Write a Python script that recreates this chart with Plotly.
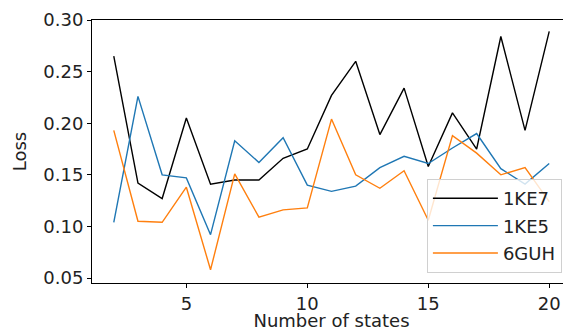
import plotly.graph_objects as go

states = list(range(2, 21))
loss_1ke7 = [0.265, 0.142, 0.127, 0.205, 0.141, 0.145, 0.145, 0.166, 0.175,
             0.227, 0.260, 0.189, 0.234, 0.158, 0.210, 0.175, 0.284, 0.193, 0.289]
loss_1ke5 = [0.104, 0.226, 0.150, 0.147, 0.092, 0.183, 0.162, 0.186, 0.140,
             0.134, 0.139, 0.157, 0.168, 0.161, 0.176, 0.190, 0.156, 0.141, 0.161]
loss_6guh = [0.193, 0.105, 0.104, 0.138, 0.058, 0.151, 0.109, 0.116, 0.118,
             0.204, 0.150, 0.137, 0.154, 0.106, 0.188, 0.171, 0.150, 0.157, 0.124]
series_names = ["1KE7", "1KE5", "6GUH"]
colors = ["black", "#1f77b4", "#ff7f0e"]
y_ticks = [0.05, 0.10, 0.15, 0.20, 0.25, 0.30]
x_ticks = [5, 10, 15, 20]

fig = go.Figure()
for name, vals, c in zip(series_names, [loss_1ke7, loss_1ke5, loss_6guh], colors):
    fig.add_trace(go.Scatter(x=states, y=vals, mode="lines", name=name, legendgroup=name,
                             line=dict(color=c, width=1.4)))

font = dict(family="DejaVu Sans", size=18, color="#222")
# page body has an 8px margin, so the figure is sized/margined to compensate
fig.update_layout(
    width=563, height=323,
    margin=dict(l=84, r=0, t=12, b=48, autoexpand=False),
    paper_bgcolor="white", plot_bgcolor="white",
    font=font,
    showlegend=True,
    legend=dict(x=0.981, y=0.038, xanchor="right", yanchor="bottom",
                bgcolor="rgba(255,255,255,0.8)", bordercolor="#d0d0d0", borderwidth=1,
                font=dict(family="DejaVu Sans", size=18, color="#222"),
                itemwidth=65, tracegroupgap=1),
)
fig.update_xaxes(range=[1.1, 20.9], tickvals=x_ticks, ticktext=[str(v) for v in x_ticks],
                 showgrid=False, zeroline=False, showline=True, linecolor="black",
                 linewidth=1, mirror=True, ticks="outside", ticklen=4, tickcolor="black",
                 automargin=False,
                 title=dict(text="Number of states", standoff=0, font=font))
fig.update_yaxes(range=[0.0452, 0.30], tickvals=y_ticks, ticktext=[f"{v:.2f}" for v in y_ticks],
                 showgrid=False, zeroline=False, showline=True, linecolor="black",
                 linewidth=1, ticks="outside", ticklen=4, tickcolor="black",
                 automargin=False,
                 title=dict(text="Loss", standoff=12, font=font))

fig.write_html("out.html")
